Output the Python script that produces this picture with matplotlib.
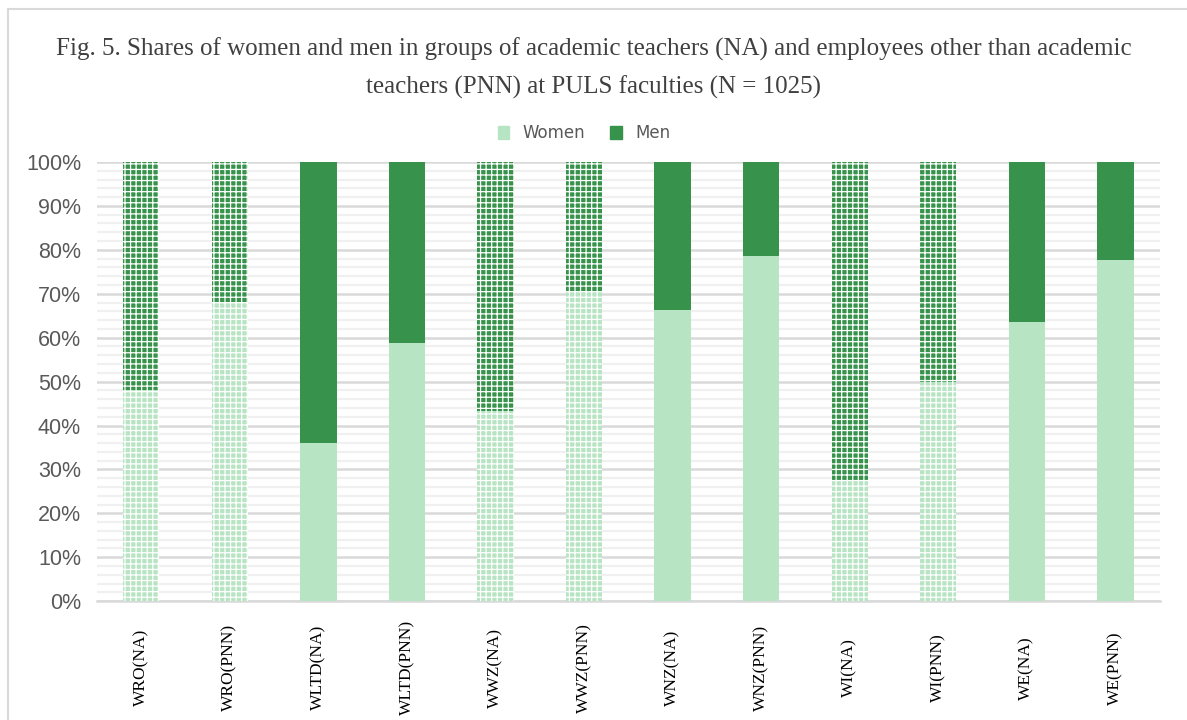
import matplotlib.pyplot as plt
import numpy as np
from matplotlib.lines import Line2D
from matplotlib.patches import Patch
from matplotlib.ticker import MultipleLocator, FuncFormatter

groups = ["WRO(NA)", "WRO(PNN)", "WLTD(NA)", "WLTD(PNN)", "WWZ(NA)", "WWZ(PNN)",
          "WNZ(NA)", "WNZ(PNN)", "WI(NA)", "WI(PNN)", "WE(NA)", "WE(PNN)"]
women = [48.1, 68.1, 36.0, 58.9, 43.4, 70.4, 66.4, 78.7, 27.4, 49.9, 63.6, 77.8]
men = [100 - w for w in women]
# faculties drawn with a dotted pattern fill
patterned = [True, True, False, False, True, True, False, False, True, True, False, False]

light = "#b7e4c2"
dark = "#37934b"

plt.rcParams["hatch.linewidth"] = 0.9

fig = plt.figure(figsize=(11.87, 7.2), dpi=100)
ax = fig.add_axes([0.0817, 0.165, 0.8953, 0.61])

x = np.arange(len(groups))
w = 0.41
for i in range(len(groups)):
    hatch = "+++" if patterned[i] else None
    ec = "white" if patterned[i] else "none"
    ax.bar(x[i], women[i], w, color=light, hatch=hatch, edgecolor=ec, linewidth=0, zorder=3)
    ax.bar(x[i], men[i], w, bottom=women[i], color=dark, hatch=hatch, edgecolor=ec,
           linewidth=0, zorder=3)

ax.set_xlim(-0.5, len(groups) - 0.5)
ax.set_ylim(0, 100)
ax.yaxis.set_major_locator(MultipleLocator(10))
ax.yaxis.set_minor_locator(MultipleLocator(2))
ax.yaxis.set_major_formatter(FuncFormatter(lambda v, p: f"{v:.0f}%"))
ax.grid(axis="y", which="minor", color="#f0f0f0", linewidth=1.6, zorder=0)
ax.grid(axis="y", which="major", color="#d9d9d9", linewidth=1.8, zorder=1)
ax.tick_params(axis="y", which="both", length=0, labelsize=15.5, labelcolor="#595959", pad=11.5)
for lab in ax.get_yticklabels():
    lab.set_family("Liberation Sans")

ax.set_xticks(x)
ax.set_xticklabels(groups, rotation=90, va="center", family="Liberation Serif", fontsize=12.5)
ax.tick_params(axis="x", length=0, pad=48)

for s in ["top", "right", "left"]:
    ax.spines[s].set_visible(False)
ax.spines["bottom"].set_color("#d9d9d9")
ax.spines["bottom"].set_linewidth(1.8)

fig.text(0.5, 0.932, "Fig. 5. Shares of women and men in groups of academic teachers (NA) and employees other than academic",
         ha="center", va="center", family="Liberation Serif", fontsize=18, color="#404040")
fig.text(0.5, 0.879, "teachers (PNN) at PULS faculties (N = 1025)",
         ha="center", va="center", family="Liberation Serif", fontsize=18, color="#404040")

handles = [Patch(color=light, label="Women"), Patch(color=dark, label="Men")]
fig.legend(handles=handles, loc="center", bbox_to_anchor=(0.492, 0.815), ncol=2, frameon=False,
           fontsize=12, handlelength=0.7, handleheight=0.9, handletextpad=0.8, columnspacing=1.5,
           labelcolor="#595959")

# chart border
fig.add_artist(Line2D([8 / 1187, 8 / 1187], [0, 1 - 9 / 720], transform=fig.transFigure,
                      color="#d9d9d9", linewidth=1.5))
fig.add_artist(Line2D([8 / 1187, 1], [1 - 9 / 720, 1 - 9 / 720], transform=fig.transFigure,
                      color="#d9d9d9", linewidth=1.5))

fig.savefig("out.png", dpi=100)
